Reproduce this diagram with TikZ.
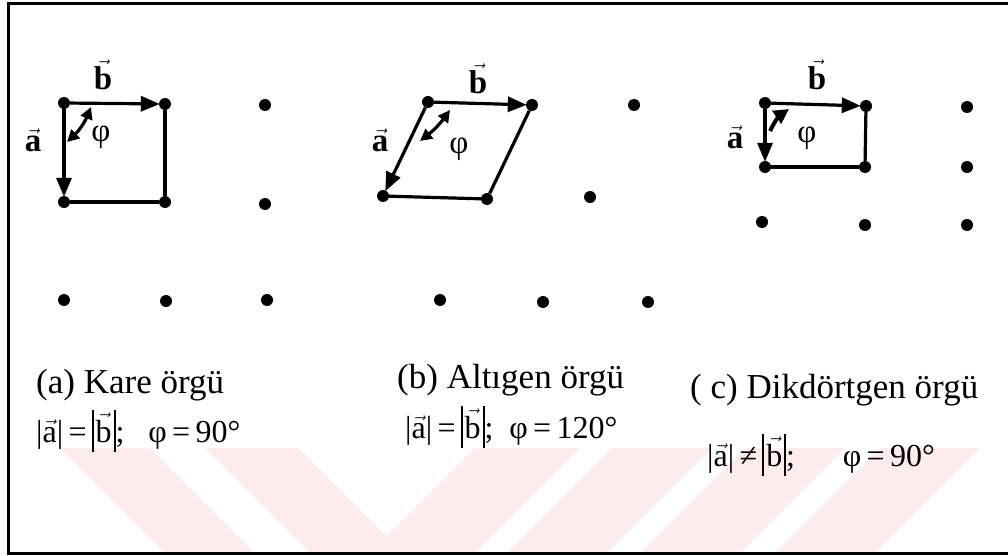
\documentclass[tikz,border=0pt]{standalone}
\usepackage{fontspec}
\setmainfont{Liberation Serif}
\usepackage{amsmath}
\usetikzlibrary{arrows.meta,positioning,calc}
\definecolor{wmark}{HTML}{FDECEF}
\newcommand{\va}{\ensuremath{\vec{\mathrm{a}}}}
\newcommand{\vb}{\ensuremath{\vec{\mathrm{b}}}}
\newcommand{\bva}{\ensuremath{\vec{\mathbf{a}}}}
\newcommand{\bvb}{\ensuremath{\vec{\mathbf{b}}}}
\newcommand{\tallbar}[1]{\rule[-10pt]{1.8pt}{42pt}\kern2pt#1\kern2pt\rule[-10pt]{1.8pt}{42pt}}

\begin{document}
\begin{tikzpicture}[x=1pt,y=-1pt,
  pt/.style={circle,fill=black,inner sep=0pt,minimum size=12pt},
  vecar/.style={-{Triangle[length=19pt,width=15pt]},line width=3.2pt,shorten >=-1pt},
  side/.style={line width=3.2pt},
  angar/.style={{Triangle[length=12pt,width=12pt]}-{Triangle[length=12pt,width=12pt]},line width=3.2pt},
  lbl/.style={font=\fontsize{33}{35}\selectfont,inner sep=0pt},
  capt/.style={font=\fontsize{35}{38}\selectfont,anchor=west,inner sep=0pt},
  eqn/.style={font=\fontsize{32}{36}\selectfont,anchor=west,inner sep=0pt},
]
\useasboundingbox (0,0) rectangle (1008,556);

% faint watermark stripes
\fill[wmark] (60,448) -- (150,448) -- (254,552) -- (164,552) -- cycle;
\fill[wmark] (205,448) -- (298,448) -- (402,552) -- (309,552) -- cycle;
\fill[wmark] (475,448) -- (580,448) -- (476,552) -- (371,552) -- cycle;
\fill[wmark] (612,448) -- (712,448) -- (608,552) -- (508,552) -- cycle;
\fill[wmark] (745,448) -- (845,448) -- (741,552) -- (641,552) -- cycle;
\fill[wmark] (880,448) -- (980,448) -- (876,552) -- (776,552) -- cycle;

% frame
\draw[line width=3pt] (1008,4) -- (8,4) -- (8,553) -- (1008,553);

% (a) square lattice
\node[pt] (a11) at (64,103) {};
\node[pt] (a12) at (165,104) {};
\node[pt] (a13) at (265,105) {};
\node[pt] (a21) at (64,202) {};
\node[pt] (a22) at (165,202) {};
\node[pt] (a23) at (265,204) {};
\node[pt] (a31) at (64,300) {};
\node[pt] (a32) at (166,301) {};
\node[pt] (a33) at (267,300) {};

\draw[side] (a12) -- (a22);
\draw[side] (a21) -- (a22);
\draw[vecar] (a11) -- (a12);
\draw[vecar] (a11) -- (a21);
\coordinate (angA1) at (91,107);
\coordinate (angA2) at (67,142);
\draw[angar] (angA1) to[bend left=12] (angA2);
\node[lbl] (vbA) at (103,75) {\bvb};
\node[lbl] (vaA) at (33,140) {\bva};
\node[lbl] (phiA) at (101,137) {φ};

% (b) hexagonal lattice
\node[pt] (b11) at (428,102) {};
\node[pt] (b12) at (532,105) {};
\node[pt] (b13) at (634,105) {};
\node[pt] (b21) at (383,196) {};
\node[pt] (b22) at (487,199) {};
\node[pt] (b23) at (590,197) {};
\node[pt] (b31) at (440,300) {};
\node[pt] (b32) at (543,302) {};
\node[pt] (b33) at (648,302) {};

\draw[side] (b12) -- (b22);
\draw[side] (b21) -- (b22);
\draw[vecar] (b11) -- (b12);
\draw[vecar] (b11) -- (b21);
\coordinate (angB1) at (450,110);
\coordinate (angB2) at (420,141);
\draw[angar] (angB1) to[bend left=8] (angB2);
\node[lbl] (vbB) at (478,79) {\bvb};
\node[lbl] (vaB) at (380,140) {\bva};
\node[lbl] (phiB) at (459,149) {φ};

% (c) rectangular lattice
\node[pt] (c11) at (765,103) {};
\node[pt] (c12) at (866,106) {};
\node[pt] (c13) at (967,107) {};
\node[pt] (c21) at (765,167) {};
\node[pt] (c22) at (865,167) {};
\node[pt] (c23) at (967,167) {};
\node[pt] (c31) at (762,222) {};
\node[pt] (c32) at (865,225) {};
\node[pt] (c33) at (967,225) {};

\draw[side] (c12) -- (c22);
\draw[side] (c21) -- (c22);
\draw[vecar] (c11) -- (c12);
\draw[vecar] (c11) -- (c21);
\coordinate (angC1) at (770,131);
\coordinate (angC2) at (789,109);
\draw[line width=4pt,-{Triangle[length=15pt,width=15pt]}] (angC1) to[bend left=15] (angC2);
\node[lbl] (vbC) at (817,75) {\bvb};
\node[lbl] (vaC) at (735,137) {\bva};
\node[lbl] (phiC) at (807,138) {φ};

% captions
\node[capt] (capA) at (36,385) {(a) Kare örgü};
\node[eqn] (eqA) at (36,431) {|\va|\,=\,\tallbar{\vb};\ \ \ φ\,=\,90°};
\node[capt] (capB) at (397,380) {(b) Altıgen örgü};
\node[eqn] (eqB) at (405,427) {|\va|\,=\,\tallbar{\vb};\ \ φ\,=\,120°};
\node[capt] (capC) at (690,390) {( c) Dikdörtgen örgü};
\node[eqn] (eqC) at (707,455) {|\va|\,≠\,\tallbar{\vb};\ \ \ \ \ \ φ\,=\,90°};
\end{tikzpicture}
\end{document}
